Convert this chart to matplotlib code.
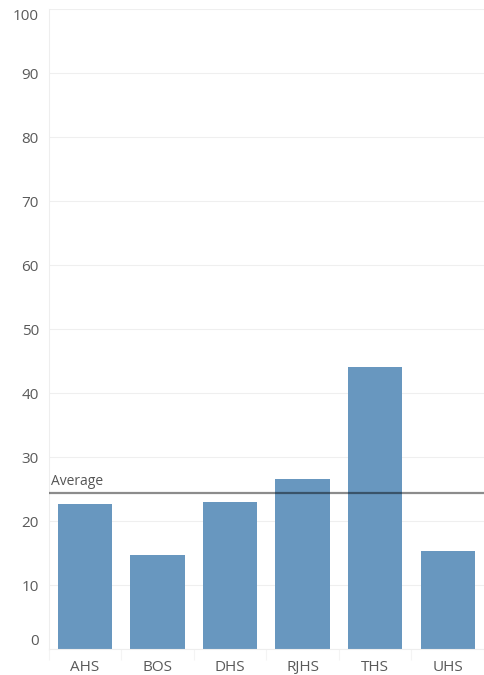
import matplotlib.pyplot as plt
import numpy as np

schools = ["AHS", "BOS", "DHS", "RJHS", "THS", "UHS"]
values = [22.7, 14.75, 22.9, 26.6, 44.1, 15.3]
y_ticks = [0, 10, 20, 30, 40, 50, 60, 70, 80, 90, 100]

plt.rcParams['font.family'] = ['Open Sans', 'DejaVu Sans']

fig = plt.figure(figsize=(4.84, 6.75), dpi=100)
ax = fig.add_axes([0.1004, 0.0385, 0.8996, 0.948])

x = np.arange(len(schools))
ax.bar(x, values, width=0.75, color='#6897bf', zorder=2)

avg = np.mean(values)
ax.axhline(avg, color='black', alpha=0.45, lw=1.6, zorder=3)
ax.text(-0.46, avg + 0.6, "Average", fontsize=10, color='#555555', va='bottom', ha='left')

ax.set_xlim(-0.5, len(schools) - 0.5)
ax.set_ylim(0, 100)
ax.set_yticks(y_ticks)
ax.set_yticklabels([str(t) for t in y_ticks])
ax.set_xticks(x)
ax.set_xticklabels(schools)
ax.set_xticks(np.arange(len(schools) + 1) - 0.5, minor=True)

ax.grid(axis='y', color='#efefef', lw=0.8, zorder=0)
ax.tick_params(axis='y', length=0, pad=7, labelsize=11, labelcolor='#5a5a5a')
ax.tick_params(axis='x', which='major', length=0, pad=8, labelsize=11, labelcolor='#5a5a5a')
ax.tick_params(axis='x', which='minor', length=8, color='#f4f4f4', width=0.8)

# first and last y labels sit inside the plot range like the original
ylabels = ax.get_yticklabels()
ylabels[0].set_va('bottom')
ylabels[0].set_y(0.6)
ylabels[-1].set_va('top')

for s in ['top', 'right']:
    ax.spines[s].set_visible(False)
ax.spines['left'].set_color('#eeeeee')
ax.spines['bottom'].set_color('#eeeeee')

fig.savefig("out.png", dpi=100)
